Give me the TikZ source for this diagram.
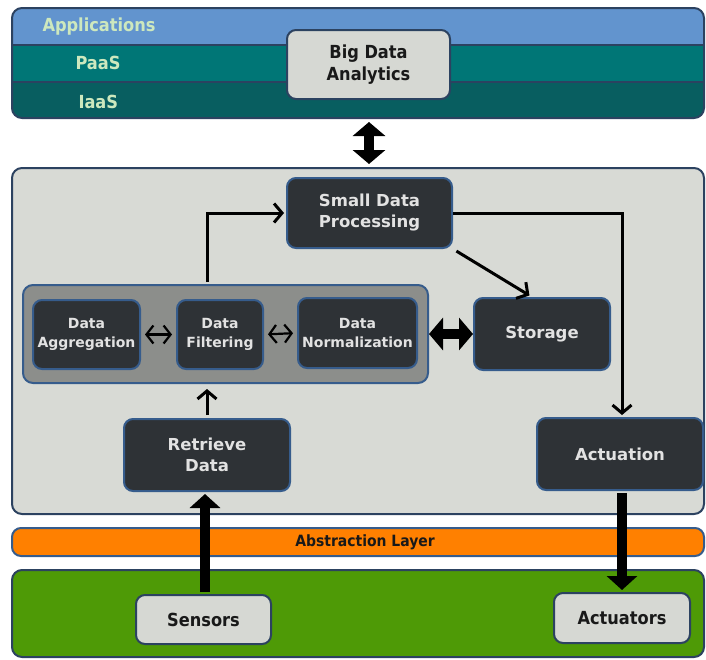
\documentclass[tikz,border=0pt]{standalone}
\usepackage{fontspec}
\setmainfont{DejaVu Sans}
\newfontfamily\condfont{DejaVu Sans Condensed}
\usetikzlibrary{arrows.meta}
\usetikzlibrary{positioning}

\definecolor{layerline}{RGB}{44,66,96}
\definecolor{appsblue}{RGB}{98,148,206}
\definecolor{paasteal}{RGB}{0,118,118}
\definecolor{iaasteal}{RGB}{8,94,96}
\definecolor{bandtext}{RGB}{205,232,190}
\definecolor{panelgray}{RGB}{216,218,213}
\definecolor{groupgray}{RGB}{140,142,139}
\definecolor{boxdark}{RGB}{46,50,54}
\definecolor{boxblue}{RGB}{54,92,140}
\definecolor{boxtext}{RGB}{226,226,226}
\definecolor{lightfill}{RGB}{214,216,211}
\definecolor{absorange}{RGB}{255,128,0}
\definecolor{devgreen}{RGB}{78,154,6}

\begin{document}
\begin{tikzpicture}[x=1pt,y=-1pt,
    layer/.style={draw=layerline, line width=2pt, rounded corners=10pt},
    darkbox/.style={draw=boxblue, line width=2pt, fill=boxdark, rounded corners=9pt, text=boxtext, align=center, inner sep=0pt, font=\bfseries\fontsize{16.5}{21}\selectfont},
    smallbox/.style={darkbox, font=\bfseries\fontsize{14}{19}\selectfont},
    lightbox/.style={draw=layerline, line width=2pt, fill=lightfill, rounded corners=9pt, text=black!90, align=center, inner sep=0pt, font=\condfont\bfseries\fontsize{18}{22}\selectfont},
    bandlabel/.style={anchor=west, text=bandtext, font=\condfont\bfseries\fontsize{18}{22}\selectfont},
    thin/.style={line width=3pt, -{Straight Barb[length=8pt,width=19pt]}},
    twoway/.style={line width=2.2pt, {Straight Barb[length=7pt,width=18pt]}-{Straight Barb[length=7pt,width=18pt]}},
    fat/.style={line width=10pt, -{Triangle[length=14pt,width=30pt]}},
    fatboth/.style={line width=10pt, {Triangle[length=14pt,width=32pt]}-{Triangle[length=14pt,width=32pt]}}]
  \useasboundingbox (0,0) rectangle (706,659);

  \fill[iaasteal, rounded corners=10pt] (12,8) rectangle (704,118);
  \fill[appsblue, rounded corners=10pt] (12,8) rectangle (704,60);
  \fill[paasteal] (12,45) rectangle (704,82);
  \draw[layerline, line width=1.5pt] (12,45) -- (704,45) (12,82) -- (704,82);
  \draw[layer] (12,8) rectangle (704,118);
  \node[bandlabel] (apps) at (39,27) {Applications};
  \node[bandlabel] (paas) at (72,63) {PaaS};
  \node[bandlabel] (iaas) at (75,102) {IaaS};
  \coordinate (cloudbot) at (369,118);

  \node[lightbox, minimum width=163, minimum height=69] (bda) at (368.5,64.5) {Big Data\\Analytics};

  \node[layer, fill=panelgray, minimum width=692, minimum height=346] (panel) at (358,341) {};
  \node[layer, draw=boxblue, fill=absorange, minimum width=692, minimum height=28, rounded corners=9pt,
        font=\condfont\bfseries\fontsize{15.5}{18}\selectfont, text=black!90] (abs) at (358,542) {\hspace*{14pt}Abstraction Layer};
  \node[layer, fill=devgreen, minimum width=692, minimum height=87] (devices) at (358,613.5) {};

  \node[darkbox, minimum width=165, minimum height=70] (sdp) at (369.5,213) {Small Data\\Processing};
  \node[layer, draw=boxblue, fill=groupgray, minimum width=405, minimum height=98] (group) at (225.5,334) {};
  \node[smallbox, minimum width=107, minimum height=69] (agg) at (86.5,334.5) {Data\\Aggregation};
  \node[smallbox, minimum width=86, minimum height=69] (filt) at (220,334.5) {Data\\Filtering};
  \node[smallbox, minimum width=119, minimum height=70] (norm) at (357.5,333) {Data\\Normalization};
  \node[darkbox, minimum width=136, minimum height=72] (stor) at (542,334) {Storage};
  \node[darkbox, minimum width=166, minimum height=72] (act) at (620,454) {Actuation};
  \node[darkbox, minimum width=166, minimum height=72] (ret) at (207,455) {Retrieve\\Data};

  \node[lightbox, minimum width=135, minimum height=49] (sens) at (203.5,619.5) {Sensors};
  \node[lightbox, minimum width=136, minimum height=50] (acts) at (622,618) {Actuators};

  \draw[fatboth, shorten <=4pt, shorten >=3pt] (cloudbot) -- (cloudbot |- panel.north);
  \draw[thin, shorten <=2pt, shorten >=2pt] (ret.north |- group.north) |- (sdp.west);
  \draw[thin, shorten >=2pt] (sdp.east) -| ([xshift=2pt]act.north);
  \draw[thin, shorten <=4pt, shorten >=3pt] (sdp.south east) -- ([xshift=-10pt]stor.north);
  \draw[thin, shorten <=3pt, shorten >=5pt] (ret.north) -- (ret.north |- group.south);
  \draw[twoway, shorten <=4pt, shorten >=4pt] (agg.east) -- (filt.west);
  \draw[twoway, shorten <=4pt, shorten >=4pt] (filt.east) -- (norm.west);
  \draw[fatboth] (group.east) -- (stor.west);
  \draw[fat, shorten <=2pt, shorten >=2pt] ([xshift=1.5pt]sens.north) -- ([xshift=1.5pt]sens.north |- ret.south);
  \draw[fat, shorten <=2pt, shorten >=2pt] ([xshift=2pt]act.south) -- ([xshift=2pt]act.south |- acts.north);
\end{tikzpicture}
\end{document}
